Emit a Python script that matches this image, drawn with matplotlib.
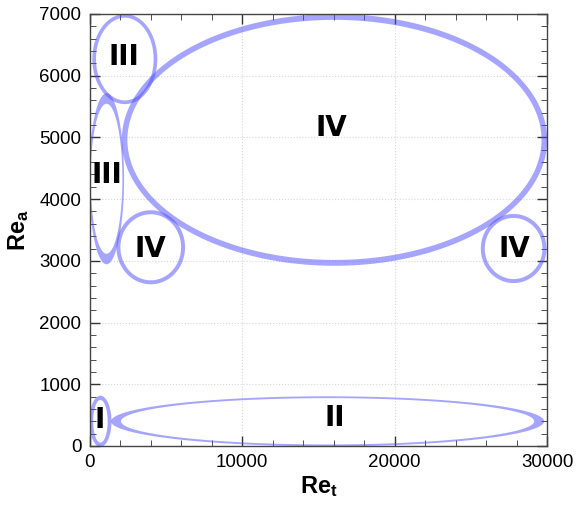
"""Flow regime map in the (Re_t, Re_a) plane, regions drawn as translucent elliptical rings."""

import matplotlib

matplotlib.use("Agg")
import matplotlib.pyplot as plt  # noqa: E402
import numpy as np  # noqa: E402
from matplotlib.path import Path  # noqa: E402
from matplotlib.patches import PathPatch  # noqa: E402
from matplotlib.ticker import MultipleLocator  # noqa: E402

# regime rings: outer ellipse centre / size, ring thickness along x and y (data units)
regimes = ["I", "II", "III", "III", "IV", "IV", "IV"]
ring_cx = [700, 15600, 2300, 1100, 16050, 4000, 27800]
ring_cy = [400, 400, 6270, 4330, 4960, 3220, 3200]
ring_w = [1450, 28400, 4260, 2300, 27900, 4500, 4300]
ring_h = [830, 810, 1460, 2770, 4080, 1200, 1120]
ring_tx = [250, 650, 240, 110, 370, 260, 260]
ring_ty = [70, 30, 60, 170, 95, 65, 65]

# where the regime names sit
label_x = [680, 16080, 2250, 1140, 15820, 3950, 27850]
label_y = [420, 450, 6300, 4390, 5150, 3200, 3200]

plt.rcParams["font.family"] = ["Liberation Sans", "DejaVu Sans"]
plt.rcParams["mathtext.fontset"] = "custom"
plt.rcParams["mathtext.bf"] = "Liberation Sans:bold"
plt.rcParams["mathtext.rm"] = "Liberation Sans"

theta = np.linspace(0, 2 * np.pi, 361)


def ring_path(cx, cy, w, h, tx, ty):
    outer = np.column_stack([cx + w / 2 * np.cos(theta), cy + h / 2 * np.sin(theta)])
    inner = np.column_stack([cx + (w / 2 - tx) * np.cos(theta[::-1]),
                             cy + (h / 2 - ty) * np.sin(theta[::-1])])
    verts = np.vstack([outer, inner])
    codes = np.full(len(verts), Path.LINETO)
    codes[0] = Path.MOVETO
    codes[len(outer)] = Path.MOVETO
    return Path(verts, codes)


fig = plt.figure(figsize=(5.79, 5.09), dpi=100)
ax = fig.add_axes([0.155, 0.1238, 0.79, 0.8487])

for i in range(len(regimes)):
    p = ring_path(ring_cx[i], ring_cy[i], ring_w[i], ring_h[i], ring_tx[i], ring_ty[i])
    ax.add_patch(PathPatch(p, facecolor=(0.3, 0.3, 1.0), edgecolor="none", alpha=0.5, zorder=2))
    ax.text(label_x[i], label_y[i], regimes[i], fontsize=20, fontweight="bold",
            family="DejaVu Sans", ha="center", va="center", zorder=3)

ax.set_xlim(0, 30000)
ax.set_ylim(0, 7000)
ax.xaxis.set_major_locator(MultipleLocator(10000))
ax.xaxis.set_minor_locator(MultipleLocator(2000))
ax.yaxis.set_major_locator(MultipleLocator(1000))
ax.yaxis.set_minor_locator(MultipleLocator(200))
ax.grid(True, which="major", color="#d8d8d8", linestyle=":", linewidth=0.8, zorder=0)
ax.tick_params(which="both", direction="in", top=True, right=True, labelsize=13.5,
               color="#333333", pad=6)
ax.tick_params(which="major", length=7, width=1.0)
ax.tick_params(which="minor", length=4, width=0.6)
for s in ax.spines.values():
    s.set_color("#444444")
    s.set_linewidth(1.0)

ax.set_xlabel(r"$\mathbf{Re_t}$", fontsize=17, labelpad=2)
ax.set_ylabel(r"$\mathbf{Re_a}$", fontsize=17, labelpad=6)

fig.savefig("out.png", dpi=100)
